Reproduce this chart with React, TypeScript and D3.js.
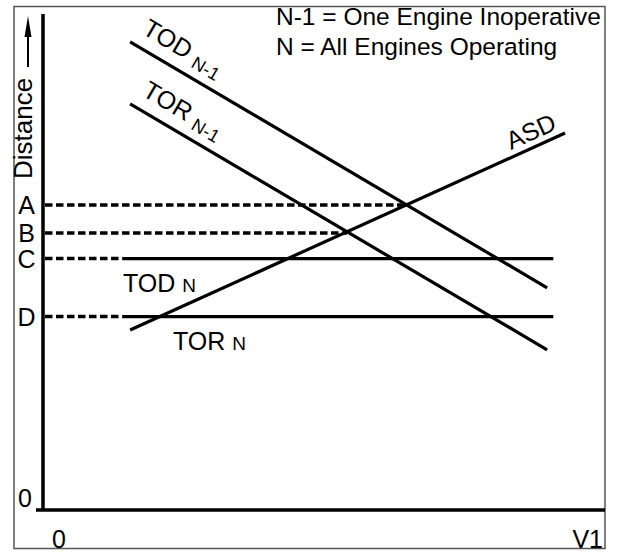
import React from "react";
import * as d3 from "d3";

// curve end points, [V1, distance] in a 0..100 frame
const todN1 = [[15.5, 94.4], [89.7, 44.8]];
const torN1 = [[15.5, 81.9], [89.7, 32.3]];
const asd = [[15.5, 36.3], [92.9, 76.0]];
const todN = [[14.1, 50.7], [90.8, 50.7]];
const torN = [[14.1, 39.0], [90.8, 39.0]];

// dashed reference levels on the distance axis
const levelNames = ["A", "B", "C", "D"];
const levelValues = [61.5, 55.85, 50.7, 39.0];
const levelEnds = [64.6, 54.1, 14.1, 14.1];

const legendLines = ["N-1 = One Engine Inoperative", "N = All Engines Operating"];

const W = 629;
const H = 558;
const FONT = "Liberation Sans, Arial, Helvetica, sans-serif";

const x = d3.scaleLinear().domain([0, 100]).range([43, 605]);
const y = d3.scaleLinear().domain([0, 100]).range([510, 14]);

const line = d3
  .line<number[]>()
  .x((d) => x(d[0]))
  .y((d) => y(d[1]));

const angle = (pts: number[][]) =>
  (Math.atan2(y(pts[1][1]) - y(pts[0][1]), x(pts[1][0]) - x(pts[0][0])) * 180) / Math.PI;

export default function App() {
  const aTod = angle(todN1);
  const aAsd = angle(asd);

  return (
    <svg
      width={W}
      height={H}
      style={{ position: "absolute", left: 0, top: 0, background: "#fff" }}
      fontFamily={FONT}
    >
      <rect x={0} y={0} width={W} height={H} fill="#fff" />
      {/* outer frame */}
      <rect x={14} y={6.5} width={591} height={542} fill="none" stroke="#555" strokeWidth={1.5} />

      {/* axes */}
      <line x1={x(0)} y1={y(100)} x2={x(0)} y2={y(0)} stroke="#000" strokeWidth={3.5} />
      <line x1={x(0) - 7} y1={y(0)} x2={x(100)} y2={y(0)} stroke="#000" strokeWidth={3.5} />

      {/* dashed guides */}
      {levelValues.map((v, i) => (
        <line
          key={levelNames[i]}
          x1={x(0) + 2}
          y1={y(v)}
          x2={x(levelEnds[i])}
          y2={y(v)}
          stroke="#000"
          strokeWidth={3.5}
          strokeDasharray="7.5,3.5"
        />
      ))}

      {/* curves */}
      {[todN1, torN1, asd, todN, torN].map((pts, i) => (
        <path key={i} d={line(pts) || ""} fill="none" stroke="#000" strokeWidth={3.2} />
      ))}

      {/* tick labels */}
      {levelNames.map((n, i) => (
        <text key={n} x={26.5} y={y(levelValues[i])} dy="0.36em" fontSize={25} textAnchor="middle">
          {n}
        </text>
      ))}
      <text x={25} y={507} fontSize={25} textAnchor="middle">0</text>
      <text x={59} y={548} fontSize={25} textAnchor="middle">0</text>
      <text x={603} y={548} fontSize={25} textAnchor="end">V1</text>

      {/* axis title */}
      <text transform="translate(32,179) rotate(-90)" fontSize={26}>Distance</text>
      <line x1={28} y1={67} x2={28} y2={34} stroke="#000" strokeWidth={2} />
      <polygon points="28,16 24.5,37 31.5,37" fill="#000" />

      {/* curve labels */}
      <text transform={`translate(141,33) rotate(${aTod})`} fontSize={25}>
        TOD<tspan dx={7} dy={4} fontSize={18}>N-1</tspan>
      </text>
      <text transform={`translate(141,95) rotate(${aTod})`} fontSize={25}>
        TOR<tspan dx={7} dy={4} fontSize={18}>N-1</tspan>
      </text>
      <text transform={`translate(511,150) rotate(${aAsd})`} fontSize={25}>ASD</text>
      <text x={123} y={292} fontSize={25}>
        TOD<tspan dx={7} fontSize={19}>N</tspan>
      </text>
      <text x={173} y={350} fontSize={25}>
        TOR<tspan dx={7} fontSize={19}>N</tspan>
      </text>

      {/* legend */}
      {legendLines.map((t, i) => (
        <text key={t} x={276} y={25 + i * 30} fontSize={24.5}>
          {t}
        </text>
      ))}
    </svg>
  );
}
